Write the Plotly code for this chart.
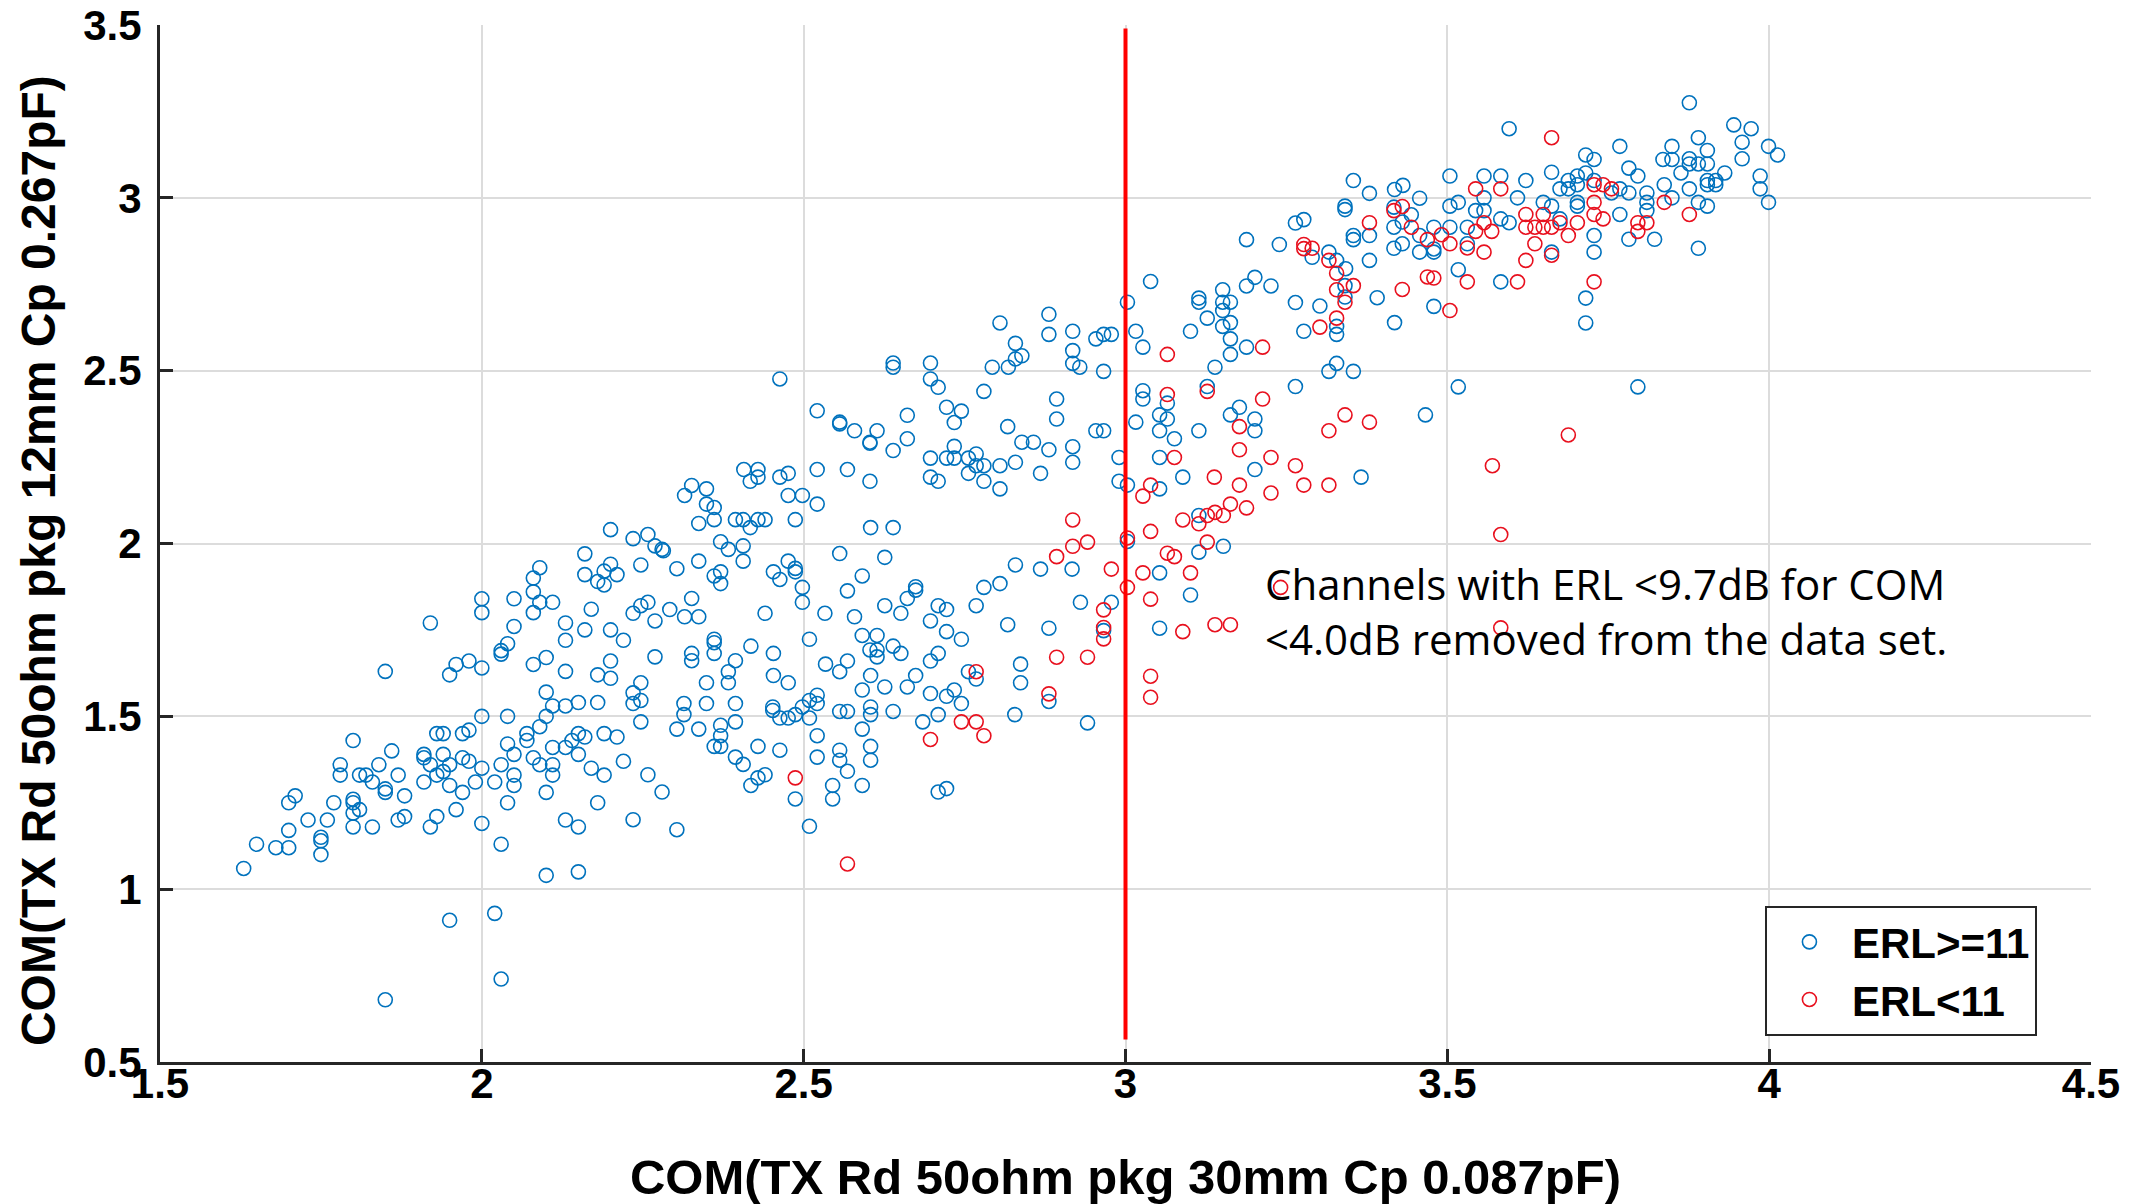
import plotly.graph_objects as go

# ---------------- data ----------------
# ERL >= 11 (blue) : (COM 30mm, COM 12mm)
blue_points = [
    (2.20,2.04),(2.16,1.97),(2.09,1.93),(2.20,1.94),(2.19,1.92),(2.16,1.91),(2.18,1.89),(2.19,1.88),(2.21,1.91),(2.08,1.90),
    (2.08,1.86),(2.00,1.84),(2.05,1.84),(2.09,1.83),(2.11,1.83),(2.08,1.80),(2.00,1.80),(2.17,1.81),(1.92,1.77),(2.05,1.76),
    (2.13,1.77),(2.13,1.72),(2.16,1.75),(2.20,1.75),(2.22,1.72),(2.04,1.71),(2.03,1.69),(2.03,1.68),(1.98,1.66),(1.96,1.65),
    (1.95,1.62),(2.00,1.64),(1.85,1.63),(2.08,1.65),(2.10,1.67),(2.13,1.63),(2.20,1.66),(2.18,1.62),(2.20,1.61),(2.10,1.57),
    (2.11,1.53),(2.13,1.53),(2.10,1.50),(2.15,1.54),(2.18,1.54),(2.00,1.50),(2.04,1.50),(2.09,1.47),(2.07,1.45),(2.07,1.43),
    (2.15,1.45),(2.16,1.44),(2.14,1.43),(2.13,1.41),(2.11,1.41),(2.19,1.45),(2.21,1.44),(2.15,1.39),(2.17,1.35),(2.19,1.33),
    (2.22,1.37),(2.04,1.42),(2.05,1.39),(2.08,1.38),(2.09,1.36),(2.11,1.36),(2.11,1.33),(2.03,1.36),(2.00,1.35),(2.05,1.33),
    (1.98,1.46),(1.97,1.45),(1.94,1.45),(1.93,1.45),(1.80,1.43),(1.86,1.40),(1.91,1.39),(1.91,1.38),(1.92,1.36),(1.94,1.39),
    (1.95,1.36),(1.94,1.34),(1.97,1.38),(1.98,1.37),(1.84,1.36),(1.78,1.36),(1.78,1.33),(1.81,1.33),(1.82,1.33),(1.87,1.33),
    (1.93,1.33),
    (1.83,1.31),(1.91,1.31),(1.95,1.30),(1.99,1.31),(2.02,1.31),(2.05,1.30),(1.71,1.27),(1.70,1.25),(1.77,1.25),(1.80,1.26),
    (1.80,1.25),(1.85,1.29),(1.85,1.28),(1.88,1.27),(1.97,1.28),(1.80,1.22),(1.81,1.23),(1.73,1.20),(1.76,1.20),(1.80,1.18),
    (1.83,1.18),(1.87,1.20),(1.88,1.21),(1.92,1.18),(1.93,1.21),(1.96,1.23),(2.04,1.25),(2.10,1.28),(2.18,1.25),(2.00,1.19),
    (2.03,1.13),(2.13,1.20),(2.15,1.18),(1.70,1.17),(1.65,1.13),(1.68,1.12),(1.70,1.12),(1.75,1.15),(1.75,1.14),(1.75,1.10),
    (1.63,1.06),(2.10,1.04),(2.15,1.05),(2.02,0.93),(1.95,0.91),(2.03,0.74),(1.85,0.68),
    (2.805,2.638),(2.829,2.579),(2.839,2.543),(2.829,2.534),(2.818,2.510),(2.793,2.510),(2.639,2.522),(2.639,2.510),(2.697,2.522),(2.697,2.476),
    (2.709,2.452),(2.780,2.440),(2.463,2.476),(2.521,2.384),(2.556,2.351),(2.556,2.346),(2.579,2.326),(2.614,2.326),(2.603,2.293),(2.603,2.290),
    (2.661,2.371),(2.661,2.303),(2.639,2.269),(2.722,2.394),(2.745,2.383),(2.734,2.350),(2.817,2.338),(2.839,2.293),(2.734,2.281),(2.697,2.247),
    (2.722,2.247),(2.734,2.247),(2.756,2.247),(2.768,2.259),(2.768,2.225),(2.780,2.225),(2.805,2.225),(2.829,2.235),(2.756,2.203),(2.780,2.180),
    (2.805,2.158),(2.697,2.192),(2.709,2.180),(2.568,2.214),(2.603,2.180),(2.521,2.214),(2.407,2.214),(2.429,2.214),(2.429,2.192),(2.417,2.180),
    (2.463,2.192),(2.476,2.203),(2.326,2.168),(2.349,2.158),(2.315,2.139),(2.476,2.139),(2.498,2.139),
    (2.349,2.114),(2.361,2.104),(2.521,2.114),(2.337,2.058),(2.361,2.069),(2.394,2.069),(2.406,2.069),(2.429,2.069),(2.440,2.069),(2.417,2.046),
    (2.487,2.069),(2.604,2.046),(2.639,2.046),(2.235,2.014),(2.258,2.026),(2.269,1.993),(2.280,1.983),(2.282,1.979),(2.371,2.005),(2.383,1.983),
    (2.406,1.993),(2.406,1.949),(2.337,1.949),(2.247,1.938),(2.303,1.927),(2.361,1.906),(2.371,1.918),(2.371,1.884),(2.453,1.918),(2.463,1.896),
    (2.476,1.949),(2.487,1.928),(2.487,1.918),(2.498,1.873),(2.498,1.830),(2.556,1.971),(2.626,1.960),(2.591,1.906),(2.568,1.863),(2.829,1.938),
    (2.805,1.884),(2.780,1.873),(2.674,1.875),(2.674,1.865),(2.661,1.841),(2.626,1.820),(2.651,1.798),(2.709,1.820),(2.722,1.809),(2.768,1.820),
    (2.697,1.776),(2.817,1.765),(2.722,1.745),(2.745,1.723),(2.533,1.798),(2.579,1.788),(2.591,1.734),(2.614,1.734),(2.509,1.723),(2.639,1.703),
    (2.603,1.692),(2.614,1.692),(2.614,1.672),(2.651,1.682),(2.709,1.682),(2.697,1.660),(2.534,1.651),(2.568,1.660),(2.556,1.629),(2.604,1.618),
    (2.674,1.618),(2.756,1.629),(2.768,1.608),(2.837,1.651),(2.837,1.597),(2.591,1.576),(2.626,1.585),(2.661,1.585),(2.697,1.566),(2.722,1.558),
    (2.734,1.576),(2.235,1.798),(2.247,1.820),(2.258,1.830),(2.269,1.776),(2.292,1.809),(2.315,1.788),(2.337,1.788),(2.326,1.841),(2.440,1.798),
    (2.361,1.723),(2.361,1.713),(2.361,1.682),(2.418,1.703),(2.269,1.672),(2.326,1.682),(2.326,1.661),(2.394,1.661),(2.383,1.629),(2.383,1.597),
    (2.349,1.597),(2.453,1.682),(2.453,1.618),(2.476,1.597),(2.247,1.597),(2.235,1.568),
    (2.247,1.546),(2.235,1.537),(2.314,1.537),(2.314,1.505),(2.349,1.537),(2.394,1.537),(2.394,1.484),(2.247,1.484),(2.303,1.463),(2.337,1.463),
    (2.371,1.474),(2.371,1.444),(2.361,1.413),(2.371,1.413),(2.394,1.382),(2.406,1.361),(2.429,1.413),(2.463,1.402),(2.452,1.527),(2.452,1.517),
    (2.463,1.495),(2.476,1.495),(2.487,1.505),(2.498,1.527),(2.509,1.546),(2.521,1.561),(2.521,1.537),(2.509,1.495),(2.521,1.444),(2.521,1.382),
    (2.556,1.514),(2.568,1.514),(2.604,1.527),(2.604,1.505),(2.639,1.514),(2.591,1.463),(2.604,1.413),(2.604,1.373),(2.556,1.402),(2.556,1.373),
    (2.568,1.341),(2.545,1.300),(2.545,1.261),(2.591,1.300),(2.487,1.261),(2.509,1.182),(2.745,1.537),(2.685,1.484),(2.709,1.505),(2.828,1.505),
    (2.709,1.281),(2.722,1.291),(2.258,1.331),(2.280,1.281),(2.235,1.201),(2.303,1.172),(2.418,1.300),(2.429,1.322),(2.440,1.331),
    (3.354,3.050),(3.379,3.013),(3.418,3.024),(3.431,3.036),(3.457,2.999),(3.341,2.976),(3.341,2.966),(3.417,2.973),(3.444,2.951),(3.417,2.915),
    (3.430,2.930),(3.457,2.891),(3.264,2.927),(3.277,2.937),(3.354,2.891),(3.354,2.879),(3.379,2.891),(3.417,2.854),(3.430,2.867),(3.457,2.843),
    (3.379,2.819),(3.188,2.879),(3.239,2.865),(3.290,2.828),(3.316,2.843),(3.328,2.819),(3.342,2.795),(3.341,2.746),(3.341,2.713),(3.391,2.711),
    (3.418,2.639),(3.302,2.687),(3.264,2.697),(3.328,2.628),(3.328,2.605),(3.277,2.614),(3.039,2.758),(3.003,2.698),(3.188,2.745),(3.201,2.770),
    (3.226,2.745),(3.151,2.734),(3.151,2.698),(3.163,2.698),(3.151,2.674),(3.163,2.639),(3.151,2.628),(3.114,2.710),(3.114,2.698),(3.127,2.652),
    (3.101,2.614),(3.163,2.592),(3.188,2.568),(3.163,2.547),(3.016,2.614),(3.027,2.568),(2.881,2.663),(2.881,2.605),(2.918,2.614),(2.918,2.558),
    (2.954,2.592),(2.966,2.605),(2.978,2.605),
    (2.918,2.521),(2.929,2.510),(2.966,2.498),(3.139,2.510),(3.127,2.454),(3.264,2.454),(3.316,2.498),(3.328,2.521),(3.354,2.498),(3.027,2.442),
    (3.027,2.418),(3.065,2.406),(3.053,2.372),(3.065,2.360),(3.016,2.351),(3.053,2.326),(3.076,2.303),(3.053,2.249),(3.114,2.326),(3.163,2.372),
    (3.177,2.394),(3.201,2.360),(3.201,2.326),(3.201,2.214),(3.366,2.192),(3.089,2.192),(2.990,2.249),(2.990,2.180),(3.003,2.169),(3.053,2.158),
    (3.114,2.081),(3.152,1.992),(3.114,1.975),(3.003,2.006),(2.893,2.418),(2.893,2.360),(2.954,2.326),(2.966,2.326),(2.857,2.293),(2.881,2.271),
    (2.918,2.280),(2.918,2.235),(2.868,2.203),
    (2.868,1.926),(2.917,1.926),(3.053,1.915),(3.101,1.851),(2.930,1.830),(2.978,1.830),(2.966,1.748),(2.881,1.755),(3.053,1.755),(2.881,1.543),
    (2.941,1.481),
    (3.876,3.275),(3.596,3.200),(3.945,3.211),(3.972,3.200),(3.890,3.174),(3.958,3.161),(3.999,3.149),(4.013,3.124),(3.849,3.149),(3.904,3.137),
    (3.958,3.113),(3.768,3.149),(3.715,3.124),(3.728,3.111),(3.835,3.111),(3.849,3.111),(3.876,3.113),(3.876,3.098),(3.890,3.098),(3.904,3.098),
    (3.782,3.086),(3.796,3.063),(3.863,3.072),(3.931,3.072),(3.986,3.063),(3.986,3.026),(3.999,2.987),(3.904,3.050),(3.917,3.050),(3.904,3.038),
    (3.917,3.038),(3.876,3.026),(3.890,2.987),(3.904,2.976),(3.849,3.000),(3.837,3.038),(3.890,2.854),(3.822,2.880),(3.782,2.880),(3.810,3.014),
    (3.810,2.987),(3.810,2.963),(3.768,2.952),(3.782,3.014),(3.755,3.014),(3.768,3.026),(3.728,3.050),(3.715,3.072),(3.702,3.063),(3.702,3.038),
    (3.688,3.050),(3.688,3.026),(3.675,3.026),(3.662,3.074),(3.622,3.050),(3.728,2.891),(3.728,2.843),(3.702,2.987),(3.702,2.976),(3.662,2.976),
    (3.649,2.987),(3.675,2.939),(3.609,3.000),(3.596,2.928),(3.583,2.939),(3.583,3.063),(3.557,3.063),(3.557,3.000),(3.557,2.963),(3.544,2.963),
    (3.531,2.915),(3.504,3.063),(3.504,2.976),(3.517,2.987),(3.504,2.915),(3.531,2.867),(3.662,2.843),(3.479,2.915),(3.479,2.852),(3.479,2.843),
    (3.517,2.792),(3.583,2.757),(3.715,2.710),(3.715,2.638),(3.479,2.686),(3.517,2.453),(3.796,2.453),(3.466,2.372),
]

# ERL < 11 (red)
red_points = [
    (2.768,1.629),
    (2.487,1.322),(2.568,1.073),(2.745,1.484),(2.768,1.484),(2.697,1.433),(2.780,1.444),
    (3.417,2.963),(3.430,2.975),(3.379,2.928),(3.444,2.915),(3.469,2.879),(3.277,2.865),(3.277,2.853),(3.290,2.854),(3.316,2.819),(3.328,2.782),
    (3.328,2.734),(3.354,2.746),(3.341,2.698),(3.430,2.735),(3.469,2.771),(3.328,2.652),(3.302,2.626),(3.213,2.568),(3.065,2.547),
    (3.127,2.440),(3.065,2.431),(3.076,2.249),(3.177,2.338),(3.213,2.418),(3.177,2.271),(3.226,2.249),(3.264,2.225),(3.341,2.372),(3.316,2.326),
    (3.379,2.351),(3.138,2.192),(3.177,2.169),(3.277,2.169),(3.316,2.169),(3.226,2.146),(3.039,2.169),(3.027,2.137),(3.163,2.114),(3.188,2.103),
    (3.139,2.090),(3.127,2.081),(3.152,2.081),(3.089,2.068),(3.114,2.057),(3.039,2.035),(3.127,2.004),(3.003,2.016),(3.065,1.972),(3.076,1.962),
    (2.918,2.068),(2.918,1.992),(2.941,2.004),(2.893,1.962),
    (2.978,1.926),(3.003,1.873),(3.027,1.915),(3.101,1.915),(3.039,1.839),(2.966,1.808),(2.966,1.757),(2.966,1.724),(3.089,1.745),(3.139,1.765),
    (3.163,1.765),(3.241,1.873),(2.893,1.671),(2.941,1.671),(3.039,1.616),(3.039,1.555),(2.881,1.565),
    (3.662,3.174),(3.837,2.987),(3.876,2.952),(3.796,2.903),(3.810,2.928),(3.796,2.928),(3.755,3.026),(3.742,3.038),(3.728,3.038),(3.728,2.987),
    (3.728,2.952),(3.742,2.939),(3.675,2.928),(3.702,2.928),(3.688,2.891),(3.662,2.915),(3.649,2.915),(3.649,2.952),(3.636,2.915),(3.622,2.915),
    (3.622,2.952),(3.583,3.026),(3.544,3.026),(3.557,2.928),(3.544,2.903),(3.569,2.903),(3.504,2.867),(3.531,2.855),(3.557,2.843),(3.636,2.867),
    (3.622,2.819),(3.662,2.834),(3.491,2.893),
    (3.479,2.768),(3.531,2.757),(3.609,2.757),(3.728,2.757),(3.504,2.674),(3.688,2.314),
    (3.570,2.225),(3.583,2.026),(3.583,1.756),
]

blue_x = [p[0] for p in blue_points]
blue_y = [p[1] for p in blue_points]
red_x = [p[0] for p in red_points]
red_y = [p[1] for p in red_points]

# COM threshold line
threshold_x = [3.0, 3.0]
threshold_y = [0.565, 3.49]

series_names = ["ERL>=11", "ERL<11"]
x_title = "COM(TX Rd 50ohm pkg 30mm Cp 0.087pF)"
y_title = "COM(TX Rd 50ohm pkg 12mm Cp 0.267pF)"
note_text = "Channels with ERL <9.7dB for COM<br><4.0dB removed from the data set."

# ---------------- figure ----------------
BLUE = "#0072BD"
RED = "#E8101E"
AXC = "#262626"

fig = go.Figure()
fig.add_trace(go.Scatter(
    x=blue_x, y=blue_y, mode="markers", name=series_names[0],
    marker=dict(symbol="circle-open", size=14, color=BLUE, line=dict(width=1.6, color=BLUE)),
))
fig.add_trace(go.Scatter(
    x=red_x, y=red_y, mode="markers", name=series_names[1],
    marker=dict(symbol="circle-open", size=14, color=RED, line=dict(width=1.6, color=RED)),
))
fig.add_trace(go.Scatter(
    x=threshold_x, y=threshold_y, mode="lines", showlegend=False,
    line=dict(color="#FF0000", width=4),
))

FAM = "Liberation Sans, Arial, sans-serif"
tickfont = dict(family=FAM, size=42, color="#000000", weight="bold")
titlefont = dict(family=FAM, size=49, color="#000000", weight="bold")

axis_common = dict(
    showgrid=True, gridcolor="#DCDCDC", gridwidth=2,
    showline=True, linecolor=AXC, linewidth=3,
    ticks="inside", ticklen=13, tickwidth=3, tickcolor=AXC,
    zeroline=False, mirror=False, tickfont=tickfont, automargin=False,
)

fig.update_layout(
    width=2146, height=1204,
    margin=dict(l=160, r=55, t=25, b=142),
    paper_bgcolor="white", plot_bgcolor="white",
    xaxis=dict(range=[1.5, 4.5], tick0=1.5, dtick=0.5, ticklabelstandoff=-17,
               title=dict(text=x_title, font=titlefont, standoff=58), **axis_common),
    yaxis=dict(range=[0.5, 3.5], tick0=0.5, dtick=0.5, ticklabelstandoff=7, **axis_common),
    legend=dict(
        x=0.972, y=0.025, xanchor="right", yanchor="bottom",
        bgcolor="white", bordercolor=AXC, borderwidth=2,
        font=dict(family=FAM, size=42, color="#000000", weight="bold"),
        itemwidth=75, tracegroupgap=0,
    ),
    showlegend=True,
    annotations=[
        dict(
            x=3.214, y=1.805, xref="x", yref="y", xanchor="left", yanchor="middle",
            text=note_text, showarrow=False, align="left",
            font=dict(family="Open Sans, sans-serif", size=42, color="#000000"),
        ),
        dict(
            x=-0.0632, y=0.484, xref="paper", yref="paper", xanchor="center", yanchor="middle",
            text=y_title, showarrow=False, textangle=-90,
            font=dict(family=FAM, size=48, color="#000000", weight="bold"),
        ),
    ],
)

fig.write_html(
    "out.html",
    config={"displayModeBar": False},
    post_script="document.body.style.margin='0px';document.body.style.overflow='hidden';",
)
